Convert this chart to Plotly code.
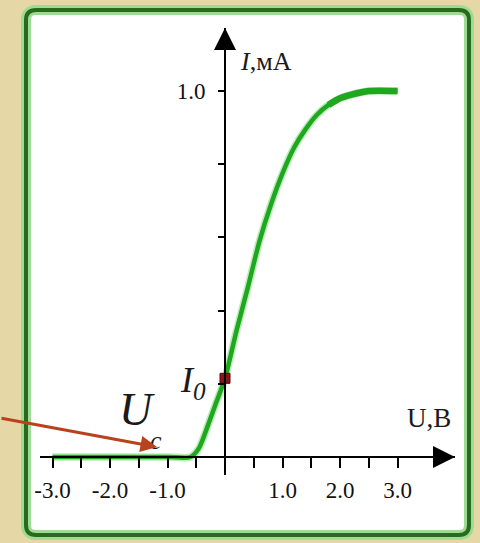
import plotly.graph_objects as go

# ---- data ----
U = [-3.0, -2.0, -1.0, -0.6, -0.45, -0.3, -0.15, 0.0, 0.2, 0.4, 0.6, 0.8, 1.0,
     1.2, 1.4, 1.6, 1.8, 2.0, 2.2, 2.5, 3.0]
I = [0.0, 0.0, 0.0, 0.0, 0.025, 0.085, 0.15, 0.215, 0.345, 0.465, 0.59, 0.69, 0.775,
     0.845, 0.895, 0.935, 0.962, 0.98, 0.99, 1.0, 1.0]
U0 = [0.0]
I0 = [0.215]

x_tickvals = [-3.0, -2.5, -2.0, -1.5, -1.0, -0.5, 0.5, 1.0, 1.5, 2.0, 2.5, 3.0]
x_ticktext = ["-3.0", "", "-2.0", "", "-1.0", "", "", "1.0", "", "2.0", "", "3.0"]
y_tickvals = [0.2, 0.4, 0.6, 0.8, 1.0]
y_ticktext = ["", "", "", "", "1.0"]

# ---- layout geometry ----
W, H = 480, 543
L, R, T, B = 40, 25, 28, 68
PW, PH = W - L - R, H - T - B


def px(x):
    return (x - L) / PW


def py(y):
    return (H - B - y) / PH


X_RANGE = [-3.2174, 4.0]
Y_RANGE = [-0.04918, 1.1721]

fig = go.Figure()

# curve
fig.add_trace(go.Scatter(x=U, y=I, mode="lines",
                         line=dict(color="#8ee08a", width=7.5, shape="spline", smoothing=0.7),
                         hoverinfo="skip", showlegend=False, opacity=0.6))
fig.add_trace(go.Scatter(x=U, y=I, mode="lines",
                         line=dict(color="#1fa81f", width=4.5, shape="spline", smoothing=0.7),
                         showlegend=False))
fig.add_trace(go.Scatter(x=U[-5:], y=I[-5:], mode="lines",
                         line=dict(color="#1fa81f", width=6.5, shape="spline", smoothing=0.7),
                         showlegend=False))
# I0 marker
fig.add_trace(go.Scatter(x=U0, y=I0, mode="markers",
                         marker=dict(symbol="square", size=10, color="#8b1414",
                                     line=dict(color="#5a0808", width=1)),
                         showlegend=False, cliponaxis=False))

serif = "Liberation Serif, Times New Roman, serif"


def rrect(x0, y0, x1, y1, r):
    X0, X1 = px(x0), px(x1)
    Y0, Y1 = py(y0), py(y1)
    rx, ry = r / PW, r / PH
    return (f"M {X0+rx},{Y0} L {X1-rx},{Y0} Q {X1},{Y0} {X1},{Y0-ry} "
            f"L {X1},{Y1+ry} Q {X1},{Y1} {X1-rx},{Y1} "
            f"L {X0+rx},{Y1} Q {X0},{Y1} {X0},{Y1+ry} "
            f"L {X0},{Y0-ry} Q {X0},{Y0} {X0+rx},{Y0} Z")


panel = rrect(26, 10, 469, 535, 10)
shapes = [
    dict(type="path", path=panel, xref="paper", yref="paper", layer="below",
         fillcolor="white", line=dict(color="#9edc96", width=10)),
    dict(type="path", path=panel, xref="paper", yref="paper", layer="below",
         fillcolor="rgba(0,0,0,0)", line=dict(color="#2a6a1c", width=4)),
]


def label(x, y, text, size):
    return dict(x=px(x), y=py(y), xref="paper", yref="paper", showarrow=False,
                xanchor="center", yanchor="middle", text=text,
                font=dict(family=serif, size=size, color="#1a1a1a"))


ann = []
# axis arrowheads
ann.append(dict(x=X_RANGE[1], y=0, ax=X_RANGE[1] - 0.4, ay=0, xref="x", yref="y",
                axref="x", ayref="y", showarrow=True, arrowhead=2, arrowsize=2.2,
                arrowwidth=2, arrowcolor="black", text=""))
ann.append(dict(x=0, y=Y_RANGE[1], ax=0, ay=Y_RANGE[1] - 0.1, xref="x", yref="y",
                axref="x", ayref="y", showarrow=True, arrowhead=2, arrowsize=2.2,
                arrowwidth=2, arrowcolor="black", text=""))
# axis titles
ann.append(label(266, 61, "<i>I</i>,мА", 26))
ann.append(label(429, 418, "U,В", 27))
# I0 label
ann.append(label(193, 382, "<i>I<sub>0</sub></i>", 36))
# Uc label
ann.append(label(137, 409, "<i>U</i>", 46))
ann.append(label(156, 440, "<i>c</i>", 26))
# red pointer arrow
ann.append(dict(x=px(157), y=py(447), xref="paper", yref="paper", ax=-157, ay=-29,
                showarrow=True, arrowhead=2, arrowsize=1.1, arrowwidth=3,
                arrowcolor="#b8421c", text="", standoff=0))

fig.update_layout(
    width=W, height=H,
    margin=dict(l=L, r=R, t=T, b=B),
    paper_bgcolor="#e6d7a6",
    plot_bgcolor="rgba(0,0,0,0)",
    shapes=shapes,
    annotations=ann,
    xaxis=dict(range=X_RANGE, anchor="free", position=(H - B - 457) / PH,
               showline=True, linecolor="black", linewidth=2,
               ticks="outside", ticklen=10, tickwidth=2, tickcolor="black",
               tickvals=x_tickvals, ticktext=x_ticktext, ticklabelstandoff=2,
               tickfont=dict(family=serif, size=23, color="#111"),
               showgrid=False, zeroline=False, fixedrange=True),
    yaxis=dict(range=Y_RANGE, anchor="free", position=px(225),
               showline=True, linecolor="black", linewidth=2,
               ticks="outside", ticklen=6, tickwidth=2, tickcolor="black",
               tickvals=y_tickvals, ticktext=y_ticktext, ticklabelstandoff=8,
               tickfont=dict(family=serif, size=23, color="#111"),
               showgrid=False, zeroline=False, fixedrange=True),
)

fig.write_html("out.html", config={"displayModeBar": False},
               post_script="document.body.style.margin='0';document.body.style.padding='0';")
